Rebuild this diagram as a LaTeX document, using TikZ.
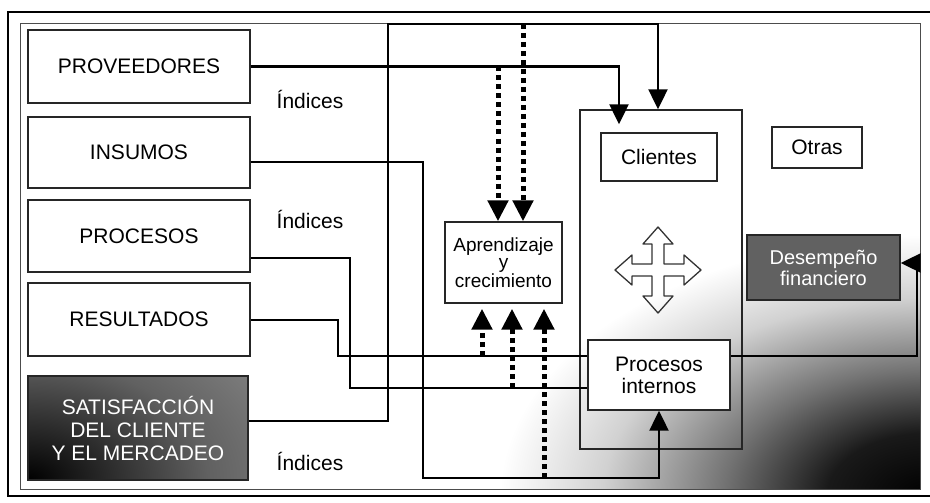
\documentclass[tikz,border=0pt]{standalone}
\usepackage{fontspec}
\setmainfont{Liberation Sans}
\usetikzlibrary{arrows.meta,calc}
\pgfdeclareradialshading{cornerdark}{\pgfpoint{0bp}{0bp}}{color(0bp)=(black); color(6bp)=(black!90); color(12bp)=(black!55); color(19bp)=(black!18); color(25bp)=(white); color(50bp)=(white)}
\pgfdeclareradialshading{satshade}{\pgfpoint{0bp}{0bp}}{color(0bp)=(black); color(6bp)=(black!85); color(15bp)=(black!62); color(25bp)=(black!48); color(50bp)=(black!48)}
\begin{document}
\begin{tikzpicture}[x=1pt,y=-1pt,
  box/.style={draw=black!85, line width=1.4pt, rectangle, inner sep=0pt, align=center,
              font=\fontsize{21}{23}\selectfont},
  conn/.style={draw=black, line width=2.2pt},
  arr/.style={-{Triangle[width=19pt,length=20pt]}},
  dotarr/.style={draw=black, line width=5pt, dash pattern=on 5pt off 4pt,
                 -{Triangle[width=20pt,length=21pt]}},
  lbl/.style={font=\fontsize{21}{23}\selectfont},
  frame/.style={draw=black!70, line width=1pt}
]
\useasboundingbox (0,0) rectangle (930,503);

% background shading (bottom-right)
\begin{scope}
  \clip (20,24) rectangle (920,489);
  \shade[shading=cornerdark] (930,495) ellipse [x radius=430pt, y radius=260pt];
\end{scope}

% frames
\draw[line width=2pt] (935,12) -- (8,12) -- (8,496) -- (935,496);
\draw[frame] (20,24) rectangle (920,489);

% satisfaction box background
\begin{scope}
  \clip (28,376) rectangle (248,480);
  \shade[shading=satshade] (28,480) ellipse [x radius=300pt, y radius=200pt];
\end{scope}

% left boxes
\node[box, minimum width=222pt, minimum height=73pt] (prov) at (139,66.5) {PROVEEDORES};
\node[box, minimum width=222pt, minimum height=71pt] (insu) at (139,152.5) {INSUMOS};
\node[box, minimum width=222pt, minimum height=72pt] (proc) at (139,236) {PROCESOS};
\node[box, minimum width=222pt, minimum height=73pt] (resu) at (139,319.5) {RESULTADOS};
\node[box, minimum width=220pt, minimum height=104pt, text=white,
      font=\fontsize{21}{23}\selectfont] (sati) at (138,428)
  {SATISFACCIÓN\\DEL CLIENTE\\Y EL MERCADEO};

% container and inner boxes
\node[box, minimum width=162pt, minimum height=339pt] (cont) at (661,279.5) {};
\node[box, minimum width=116pt, minimum height=48pt] (clie) at (659,157) {Clientes};
\node[box, minimum width=90pt, minimum height=41pt] (otra) at (817,147.5) {Otras};
\node[box, minimum width=117pt, minimum height=81pt,
      font=\fontsize{19}{17.5}\selectfont] (apre) at (503.5,262.5) {Aprendizaje\\y\\crecimiento};
\node[box, fill=black!62, minimum width=153pt, minimum height=65pt, text=white,
      font=\fontsize{20}{21}\selectfont] (dese) at (823.5,267.5)
  {Desempeño\\financiero};
\node[box, fill=white, minimum width=142pt, minimum height=70pt,
      font=\fontsize{21}{22}\selectfont] (pint) at (659,375) {Procesos\\internos};

% labels
\node[lbl] (ind1) at (310,99) {Índices};
\node[lbl] (ind2) at (310,219) {Índices};
\node[lbl] (ind3) at (310,461) {Índices};

% four-way arrow
\begin{scope}[shift={(658,270)}]
\draw[black!80, line width=1.3pt, line join=round]
  (-6,-6) -- (-6,-26) -- (-15,-26) -- (0,-43) -- (15,-26) -- (6,-26) -- (6,-6)
  -- (26,-6) -- (26,-15) -- (43,0) -- (26,15) -- (26,6) -- (6,6)
  -- (6,26) -- (15,26) -- (0,43) -- (-15,26) -- (-6,26) -- (-6,6)
  -- (-26,6) -- (-26,15) -- (-43,0) -- (-26,-15) -- (-26,-6) -- cycle;
\end{scope}

% connectors
\draw[conn, arr, shorten >=-15pt] (prov.east) -| (619,0 |- cont.north);
\draw[conn, arr] (sati.east |- 0,421) -| (388,24) -| (658,0 |- cont.north);
\draw[conn, arr] (insu.east |- 0,162) -| (423,478) -| (pint.south);
\draw[conn] (proc.east |- 0,258) -| (350,388) -- (pint.west |- 0,388);
\draw[conn] (resu.east |- 0,320) -| (338,356) -- (pint.west |- 0,356);
\draw[conn, arr] (pint.east |- 0,356) -| (917,263) -- (dese.east |- 0,263);

% dotted arrows
\draw[dotarr] (498,0 |- prov.east) -- (498,0 |- apre.north);
\draw[dotarr] (523,24) -- (523,0 |- apre.north);
\draw[dotarr] (482,356) -- ([yshift=-5pt]482,0 |- apre.south);
\draw[dotarr] (512,388) -- ([yshift=-5pt]512,0 |- apre.south);
\draw[dotarr] (544,478) -- ([yshift=-5pt]544,0 |- apre.south);
\end{tikzpicture}
\end{document}
